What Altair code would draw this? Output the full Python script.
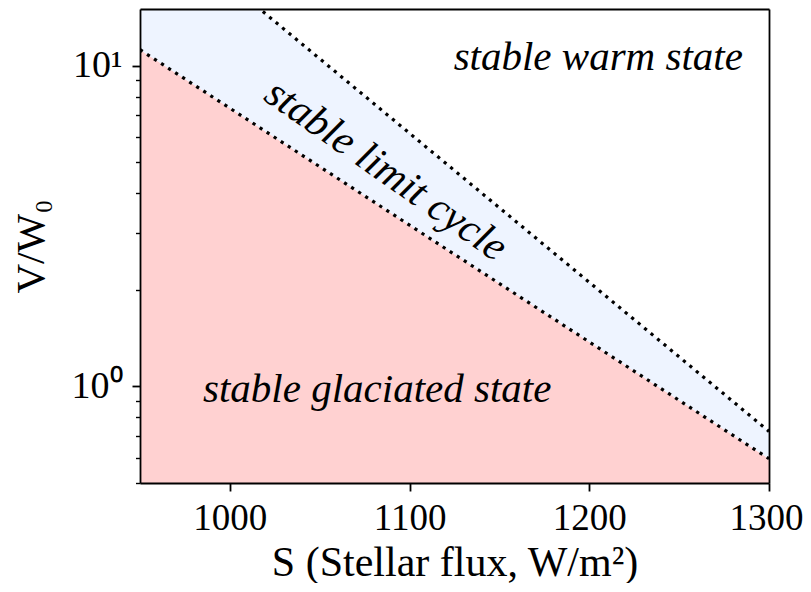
import altair as alt
import pandas as pd

# ---- data ----
S_VALUES = [950, 1100, 1300]
V_LOWER = [11.2, 3.18, 0.595]      # glaciated / limit-cycle boundary
V_UPPER = [30.6, 6.15, 0.724]      # limit-cycle / warm boundary
X_DOMAIN = [950, 1300]
Y_DOMAIN = [0.5, 15]

X_TICKS = [1000, 1100, 1200, 1300]
Y_MAJOR = [1, 10]
Y_MINOR = [0.5, 0.6, 0.7, 0.8, 0.9, 2, 3, 4, 5, 6, 7, 8, 9]

FLAT_LABELS = ["stable warm state", "stable glaciated state"]
FLAT_S = [1205, 1082]
FLAT_V = [9.7, 0.896]

ROT_LABELS = ["stable limit cycle"]
ROT_S = [1087]
ROT_V = [4.72]
ROT_ANGLE = [35]

PINK = "#ffd1d1"
BLUE = "#eef4ff"
FONT = "Liberation Serif"

df = pd.DataFrame({
    "S": S_VALUES,
    "lower": V_LOWER,
    "upper": V_UPPER,
    "floor": [Y_DOMAIN[0]] * len(S_VALUES),
})
flat = pd.DataFrame({"label": FLAT_LABELS, "S": FLAT_S, "V": FLAT_V})
rot = pd.DataFrame({"label": ROT_LABELS, "S": ROT_S, "V": ROT_V, "angle": ROT_ANGLE})

xscale = alt.Scale(domain=X_DOMAIN, nice=False, zero=False)
yscale = alt.Scale(type="log", domain=Y_DOMAIN, nice=False)

x_bottom = alt.Axis(
    orient="bottom", values=X_TICKS, format="d", title="S (Stellar flux, W/m²)",
    domain=True, domainColor="black", domainWidth=1.8,
    ticks=True, tickSize=8, tickWidth=1.8, tickColor="black",
    labelFontSize=37, labelPadding=9, labelFlush=False, labelColor="black",
    labelOffset={"condition": {"test": "datum.value == 1300", "value": -3}, "value": 0},
    titleFontSize=42, titleFontWeight="normal", titleColor="black",
    titleY=92, titleBaseline="alphabetic", grid=False, zindex=1,
)
x_top = alt.Axis(orient="top", domain=True, domainColor="black", domainWidth=1.8,
                 ticks=False, labels=False, title=None, grid=False, zindex=1)
y_major = alt.Axis(
    orient="left", values=Y_MAJOR, title="V/W₀",
    labelExpr="datum.value == 1 ? '10⁰' : '10¹'",
    domain=True, domainColor="black", domainWidth=1.8,
    ticks=True, tickSize=8, tickWidth=1.8, tickColor="black",
    labelFontSize=38, labelPadding=10, labelColor="black", labelBaseline="middle",
    titleFontSize=41, titleFontWeight="normal", titleColor="black",
    titleX=-97, titleY=237, titleBaseline="alphabetic", titleAngle=270,
    grid=False, zindex=1,
)
y_minor = alt.Axis(orient="left", values=Y_MINOR, domain=False, ticks=True,
                   tickSize=4.5, tickWidth=1.4, tickColor="black",
                   labels=False, title=None, grid=False, zindex=1)
y_right = alt.Axis(orient="right", domain=True, domainColor="black", domainWidth=1.8,
                   ticks=False, labels=False, title=None, grid=False, zindex=1)

base = alt.Chart(df)

pink = base.mark_area(color=PINK, opacity=1, clip=True).encode(
    x=alt.X("S:Q", scale=xscale, axis=x_bottom),
    y=alt.Y("lower:Q", scale=yscale, axis=y_major),
    y2="floor:Q",
)
blue = base.mark_area(color=BLUE, opacity=1, clip=True).encode(
    x=alt.X("S:Q", scale=xscale, axis=x_top),
    y=alt.Y("lower:Q", scale=yscale, axis=y_minor),
    y2="upper:Q",
)
dash = dict(color="black", strokeWidth=3.2, strokeDash=[3.2, 5.2], clip=True)
lower_line = base.mark_line(**dash).encode(
    x=alt.X("S:Q", scale=xscale, axis=None),
    y=alt.Y("lower:Q", scale=yscale, axis=y_right),
)
upper_line = base.mark_line(**dash).encode(
    x=alt.X("S:Q", scale=xscale, axis=None),
    y=alt.Y("upper:Q", scale=yscale, axis=None),
)
flat_text = alt.Chart(flat).mark_text(
    font=FONT, fontSize=41, fontStyle="italic", align="center",
    baseline="alphabetic", color="black",
).encode(
    x=alt.X("S:Q", scale=xscale, axis=None),
    y=alt.Y("V:Q", scale=yscale, axis=None),
    text="label:N",
)
rot_text = alt.Chart(rot).mark_text(
    font=FONT, fontSize=42, fontStyle="italic", align="center",
    baseline="middle", color="black",
).encode(
    x=alt.X("S:Q", scale=xscale, axis=None),
    y=alt.Y("V:Q", scale=yscale, axis=None),
    angle=alt.Angle("angle:Q", scale=None),
    text="label:N",
)

chart = (
    alt.layer(pink, blue, lower_line, upper_line, flat_text, rot_text)
    .resolve_axis(x="independent", y="independent")
    .properties(
        width=629, height=474,
        autosize=alt.AutoSizeParams(type="none"),
        padding={"left": 132, "top": 1, "right": 34, "bottom": 100},
    )
    .configure(font=FONT)
    .configure_view(stroke=None)
    .configure_axis(labelFont=FONT, titleFont=FONT)
)

chart.save("out.html", embed_options={"renderer": "svg", "actions": False})
